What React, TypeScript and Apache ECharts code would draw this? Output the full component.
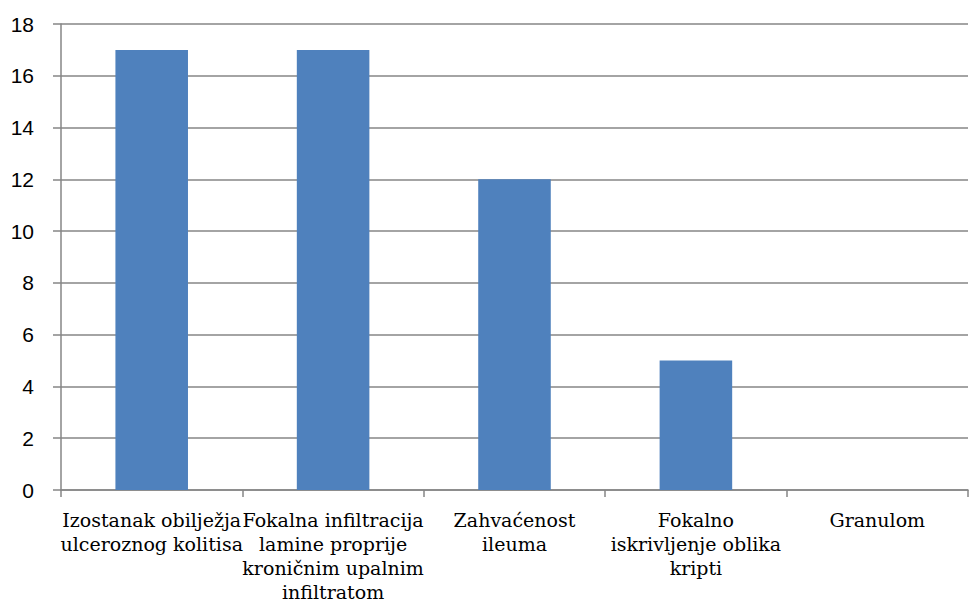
import React, { useEffect, useRef } from "react";
import * as echarts from "echarts";

const categories = [
  "Izostanak obilježja\nulceroznog kolitisa",
  "Fokalna infiltracija\nlamine proprije\nkroničnim upalnim\ninfiltratom",
  "Zahvaćenost\nileuma",
  "Fokalno\niskrivljenje oblika\nkripti",
  "Granulom",
];
const values = [17, 17, 12, 5, 0];
const yTicks = { min: 0, max: 18, interval: 2 };

export default function App() {
  const ref = useRef<HTMLDivElement>(null);
  useEffect(() => {
    if (!ref.current) return;
    const chart = echarts.init(ref.current, null, { renderer: "svg" });
    chart.setOption({
      animation: false,
      grid: { left: 61, right: 8, top: 24, bottom: 119, containLabel: false },
      xAxis: {
        type: "category",
        data: categories,
        axisLine: { show: true, lineStyle: { color: "#868686", width: 1.5 } },
        axisTick: { show: true, length: 7, alignWithLabel: false, lineStyle: { color: "#868686", width: 1.5 } },
        axisLabel: {
          interval: 0,
          margin: 18,
          color: "#000",
          fontFamily: "'DejaVu Serif', 'Liberation Serif', serif",
          fontSize: 19,
          lineHeight: 24,
        },
      },
      yAxis: {
        type: "value",
        min: yTicks.min,
        max: yTicks.max,
        interval: yTicks.interval,
        axisLine: { show: true, lineStyle: { color: "#868686", width: 1.5 } },
        axisTick: { show: true, length: 8, lineStyle: { color: "#868686", width: 1.5 } },
        splitLine: { show: true, lineStyle: { color: "#868686", width: 1.5 } },
        axisLabel: {
          color: "#000",
          fontFamily: "Liberation Sans",
          fontSize: 21,
          margin: 27,
        },
      },
      series: [
        {
          type: "bar",
          data: values,
          barWidth: "40%",
          itemStyle: { color: "#4F81BD" },
        },
      ],
    });
    return () => chart.dispose();
  }, []);
  return <div ref={ref} style={{ width: 976, height: 609, position: "absolute", left: 0, top: 0 }} />;
}
